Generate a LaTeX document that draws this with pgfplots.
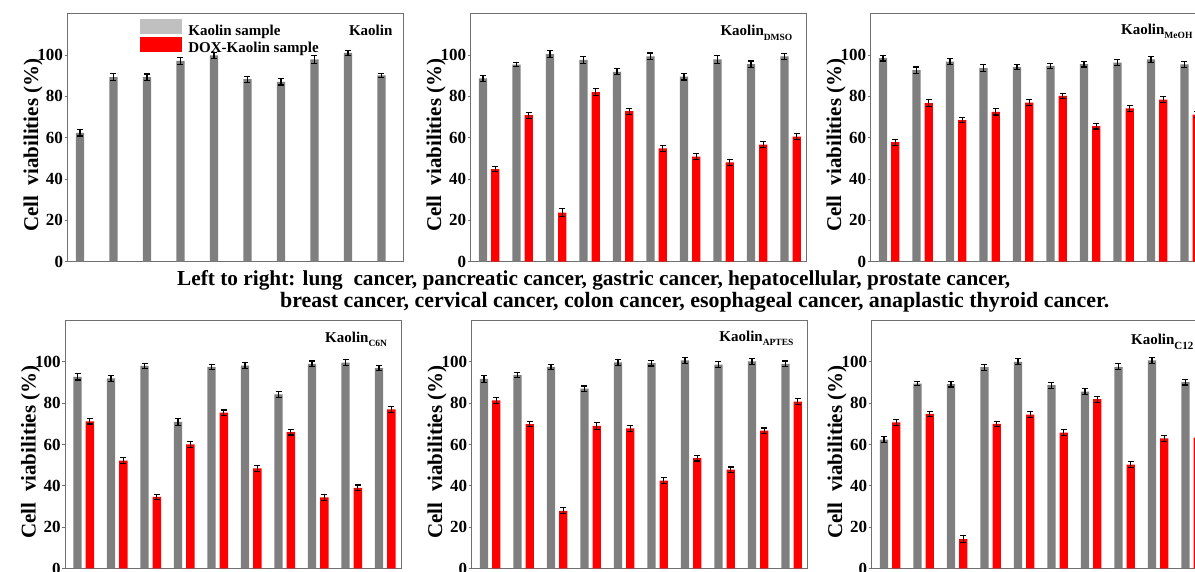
\documentclass[border=0pt]{standalone}
\usepackage{fontspec}
\setmainfont{Liberation Serif}
\usepackage{pgfplots}
\pgfplotsset{compat=1.18}
\usepackage{pgfplotstable}

\definecolor{bargrey}{HTML}{7F7F7F}
\definecolor{legrey}{HTML}{C0C0C0}
\definecolor{framegrey}{HTML}{707070}
\definecolor{barred}{HTML}{FF0000}

\pgfplotstableread{
x g ge
1 62.3 1.5
2 89.3 1.8
3 89.3 1.5
4 97.2 1.6
5 99.8 1.6
6 88.3 1.5
7 87.0 1.5
8 97.9 1.8
9 101.0 1.2
10 90.2 1.0
}\dataKaolin

\pgfplotstableread{
x g ge r re
1 88.7 1.5 44.8 1.2
2 95.3 1.0 70.9 1.5
3 100.4 1.6 23.8 1.8
4 97.6 1.6 82.1 1.5
5 91.9 1.5 72.8 1.5
6 99.4 1.6 54.8 1.5
7 89.5 1.6 50.8 1.5
8 97.9 1.8 48.0 1.5
9 95.6 1.5 56.7 1.5
10 99.4 1.5 60.5 1.5
}\dataDMSO

\pgfplotstableread{
x g ge r re
1 98.5 1.4 57.8 1.5
2 92.7 1.5 76.7 1.6
3 96.8 1.5 68.5 1.2
4 93.7 1.6 72.5 1.5
5 94.2 1.4 77.0 1.4
6 94.7 1.4 80.2 1.4
7 95.6 1.4 65.6 1.4
8 96.3 1.4 74.2 1.4
9 97.9 1.4 78.4 1.4
10 95.5 1.5 71.2 1.4
}\dataMeOH

\pgfplotstableread{
x g ge r re
1 92.7 1.5 71.2 1.3
2 92.0 1.4 52.2 1.5
3 98.0 1.4 34.7 1.2
4 71.0 1.6 60.0 1.4
5 97.5 1.4 75.4 1.3
6 98.2 1.4 48.5 1.4
7 84.3 1.4 66.0 1.4
8 99.0 1.4 34.4 1.4
9 99.6 1.4 39.0 1.4
10 97.0 1.4 77.0 1.4
}\dataCsixN

\pgfplotstableread{
x g ge r re
1 91.8 1.8 81.3 1.4
2 93.6 1.4 69.8 1.3
3 97.5 1.4 27.9 1.5
4 87.0 1.3 69.0 1.6
5 99.7 1.4 67.8 1.4
6 99.4 1.4 42.5 1.4
7 100.7 1.4 53.4 1.4
8 98.6 1.4 47.8 1.3
9 100.2 1.5 66.7 1.3
10 99.0 1.4 80.7 1.4
}\dataAPTES

\pgfplotstableread{
x g ge r re
1 62.4 1.4 70.7 1.4
2 89.4 0.9 74.8 1.3
3 89.2 1.4 14.2 1.6
4 97.4 1.4 70.0 1.3
5 100.0 1.4 74.5 1.3
6 88.7 1.4 65.8 1.4
7 85.6 1.3 81.9 1.4
8 97.6 1.4 50.2 1.4
9 100.7 1.4 63.0 1.4
10 90.2 1.4 63.3 1.4
}\dataCtwelve

\pgfplotsset{
  panel/.style={
    scale only axis, width=336pt, height=248pt,
    xmin=0.45, xmax=10.48, ymin=0, ymax=120,
    ytick={0,20,40,60,80,100}, xtick=\empty,
    ytick pos=left, tick align=outside, major tick length=3pt,
    tick style={framegrey, line width=1pt},
    axis line style={framegrey, line width=1.3pt},
    ybar, bar width=8.3pt,
    /pgf/number format/assume math mode=true,
    yticklabel style={font=\fontsize{17}{17}\selectfont\bfseries, inner sep=1.5pt},
    ylabel={Cell\ \ viabilities (\%)},
    ylabel style={font=\fontsize{21}{22}\selectfont\bfseries, at={(axis description cs:-0.088,0.47)}, anchor=base},
    clip=false,
  },
  errstyle/.style={
    error bars/.cd, y dir=both, y explicit,
    error bar style={black, line width=1.2pt},
    error mark options={black, line width=1.1pt, mark size=3pt, rotate=90}},
  greybars/.style={fill=bargrey, draw=none, bar shift=-6.15pt, errstyle},
  redbars/.style={fill=barred, draw=none, bar shift=6.15pt, errstyle},
}

\newcommand{\ptitle}[3]{\node[anchor=base east, font=\fontsize{15}{15}\selectfont\bfseries, inner sep=0pt] at (axis description cs:0.958,#1) {Kaolin\raisebox{-4.5pt}{\fontsize{#3}{#3}\selectfont #2}};}

\begin{document}
\begin{tikzpicture}
\useasboundingbox (0,0) rectangle (1195pt,572pt);
\clip (0,0) rectangle (1195pt,572pt);

% Panel 1
\begin{axis}[panel, at={(67.7pt,310.3pt)}, anchor=south west,
  legend style={at={(axis description cs:0.215,0.98)}, anchor=north west, draw=none, fill=none,
    inner sep=0pt, outer sep=0pt, row sep=0pt, nodes={inner sep=0pt},
    font=\fontsize{15}{15}\selectfont\bfseries,
    /tikz/every odd column/.append style={column sep=7pt}},
  legend cell align=left]
\addlegendimage{legend image code/.code={\fill[legrey] (0pt,-2.3pt) rectangle (41pt,11.7pt);}}
\addlegendentry{Kaolin sample}
\addlegendimage{legend image code/.code={\fill[barred] (0pt,-2.3pt) rectangle (41pt,11.7pt);}}
\addlegendentry{DOX-Kaolin sample}
\addplot[greybars] table[x=x, y=g, y error=ge] {\dataKaolin};
\node[anchor=base east, font=\fontsize{15}{15}\selectfont\bfseries, inner sep=0pt] at (axis description cs:0.967,0.911) {Kaolin};
\end{axis}

% Panel 2
\begin{axis}[panel, at={(470.7pt,310.3pt)}, anchor=south west]
\addplot[greybars] table[x=x, y=g, y error=ge] {\dataDMSO};
\addplot[redbars] table[x=x, y=r, y error=re] {\dataDMSO};
\ptitle{0.911}{DMSO}{9.5}
\end{axis}

% Panel 3
\begin{axis}[panel, at={(870.7pt,310.3pt)}, anchor=south west]
\addplot[greybars] table[x=x, y=g, y error=ge] {\dataMeOH};
\addplot[redbars] table[x=x, y=r, y error=re] {\dataMeOH};
\ptitle{0.918}{MeOH}{9.5}
\end{axis}

% Panel 4
\begin{axis}[panel, at={(65.3pt,3.5pt)}, anchor=south west]
\addplot[greybars] table[x=x, y=g, y error=ge] {\dataCsixN};
\addplot[redbars] table[x=x, y=r, y error=re] {\dataCsixN};
\ptitle{0.912}{C6N}{9.5}
\end{axis}

% Panel 5
\begin{axis}[panel, at={(471.7pt,3.5pt)}, anchor=south west]
\addplot[greybars] table[x=x, y=g, y error=ge] {\dataAPTES};
\addplot[redbars] table[x=x, y=r, y error=re] {\dataAPTES};
\ptitle{0.917}{APTES}{9.5}
\end{axis}

% Panel 6
\begin{axis}[panel, at={(871.7pt,3.5pt)}, anchor=south west]
\addplot[greybars] table[x=x, y=g, y error=ge] {\dataCtwelve};
\addplot[redbars] table[x=x, y=r, y error=re] {\dataCtwelve};
\ptitle{0.902}{C12}{11}
\end{axis}

\node[anchor=base west, font=\fontsize{21.3}{22}\selectfont\bfseries, inner sep=0pt] at (177pt,286.5pt)
  {Left to right: lung\ \ cancer, pancreatic cancer, gastric cancer, hepatocellular, prostate cancer,};
\node[anchor=base west, font=\fontsize{21.9}{22}\selectfont\bfseries, inner sep=0pt] at (280pt,264pt)
  {breast cancer, cervical cancer, colon cancer, esophageal cancer, anaplastic thyroid cancer.};
\end{tikzpicture}
\end{document}
